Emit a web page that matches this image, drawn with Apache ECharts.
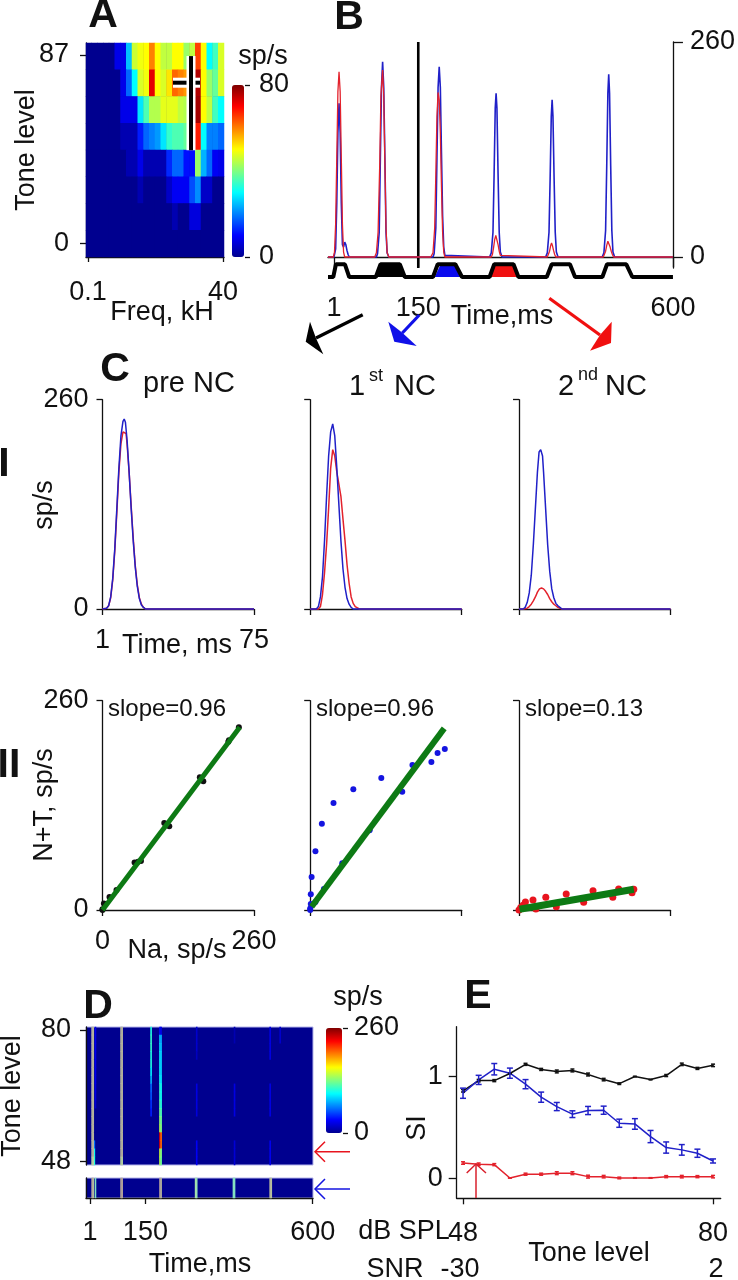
<!DOCTYPE html>
<html><head><meta charset="utf-8">
<style>html,body{margin:0;padding:0;background:#fff}#c{width:738px;height:1280px}</style>
<script src="https://cdn.jsdelivr.net/npm/echarts@6/dist/echarts.min.js"></script>
</head><body><div id="c"></div>
<script>
// ---------- DATA ----------
// A: tuning map, rows top to bottom, 24 frequency columns
const aRow0=[0,0,0,0,0,8,8,25,46,49,50,60,50,45,45,50,50,42,45,65,50,30,35,47];
const aRow1=[0,0,0,0,0,0,8,18,30,47,49,72,50,47,52,62,60,58,60,76,50,42,38,47];
const aRow2=[0,0,0,0,0,0,8,8,8,28,36,44,44,48,48,48,45,44,46,77,50,45,35,30];
const aRow3=[0,0,0,0,0,0,3,3,3,12,18,20,22,28,34,36,36,38,42,68,30,20,20,18];
const aRow4=[0,0,0,0,0,0,0,3,3,8,3,3,3,3,13,18,18,11,11,42,24,18,9,8];
const aRow5=[0,0,0,0,0,0,0,0,0,3,0,0,0,0,5,9,9,9,16,21,5,5,0,0];
const aRow6=[0,0,0,0,0,0,0,0,0,0,0,0,0,0,0,3,0,0,7,7,0,0,0,0];
const aRow7=[0,0,0,0,0,0,0,0,0,0,0,0,0,0,0,0,0,0,0,0,0,0,0,0];
const aRows=[aRow0,aRow1,aRow2,aRow3,aRow4,aRow5,aRow6,aRow7];
const aTicksY=[0,87], aTicksX=[-1,1.602], aBarTicks=[0,80];
// B
const bBlue=[[-9.5,0],[1,0],[4,10],[6,65],[8,150],[10,186],[12,150],[14,65],[16,15],[18,12],[20,18],[22,15],[24,8],[26,3],[28,0],
[76,0],[78,4],[81,30],[83,120],[85,205],[87,236],[89,205],[91,120],[93,30],[95,5],[98,0],
[176,0],[178,4],[181,35],[183,120],[185,205],[187,230],[189,205],[191,125],[193,50],[195,12],[197,2],[199,0],
[276,0],[279,5],[282,30],[284,100],[286,180],[287.5,198],[289,180],[291,100],[293,30],[295,6],[298,0],
[375,0],[378,5],[381,30],[383,95],[385,170],[386.5,190],[388,170],[390,95],[392,30],[394,6],[397,0],
[475,0],[478,5],[481,32],[483,110],[485,198],[486.5,221],[488,198],[490,110],[492,32],[494,6],[497,0],[600,0]];
const bRed=[[-9.5,0],[0,0],[2,6],[4,40],[6,120],[8,200],[10,224],[12,200],[14,120],[16,40],[18,6],[20,0],
[73,0],[76,5],[79,30],[82,115],[84,195],[87,226],[89,195],[91,115],[93,35],[95,5],[98,0],
[172,0],[176,5],[179,35],[181,100],[183,170],[185,199],[187,190],[189,150],[191,85],[193,30],[195,6],[197,0],
[279,0],[281,3],[283,11],[285,21],[287,26],[289,24],[291,15],[293,7],[295,2],[297,0],
[378,0],[380,2],[382,7],[384,14],[385.5,17],[387,14],[389,8],[391,3],[393,0],
[477,0],[479,2],[481,7],[483,14],[485,19],[487,17],[489,12],[491,7],[493,3],[495,0],[600,0]];
const bStim=[[-9.5,-24.2],[-0.2,-24.2],[4.5,-8.8],[20.4,-8.8],[28,-24.2],[75,-24.2],[83.3,-8.8],[117.4,-8.8],[126.2,-24.2],
[176,-24.2],[184.3,-8.8],[215.5,-8.8],[227.3,-24.2],[276,-24.2],[284.2,-8.8],[318.3,-8.8],[327,-24.2],
[377,-24.2],[385.8,-8.8],[418,-8.8],[427,-24.2],[475.3,-24.2],[483.5,-8.8],[517.6,-8.8],[528.2,-24.2],[600,-24.2]];
const bNoiseBlack=[[75,-24.2],[83.3,-8.8],[117.4,-8.8],[126.2,-24.2]];
const bNoiseBlue=[[179,-24.2],[188,-11],[216,-11],[225,-24.2]];
const bNoiseRed=[[278,-24.2],[285,-11],[318,-11],[328,-24.2]];
const bCursor=[[150,260],[150,-13.3]];
// C row I: pre NC, 1st NC, 2nd NC
const c1Blue=[[1,0],[3,1],[4,4],[5,15],[6,38],[7,75],[8,125],[9,175],[10,215],[11,233],[11.6,236],[12.2,232],[13,210],[14,170],[15,125],[16,85],[17,52],[18,28],[19,13],[20,5],[21,2],[22,0],[75,0]];
const c1Red=[[1,0],[3,1],[4,4],[5,14],[6,36],[7,72],[8,120],[9,170],[10,205],[11,220],[11.8,222],[12.5,218],[13,205],[14,170],[15,128],[16,88],[17,54],[18,30],[19,14],[20,6],[21,2],[22,0],[75,0]];
const c2Blue=[[1,0],[4,0],[5,3],[6,15],[7,40],[8,85],[9,140],[10,190],[11,220],[12,230],[13,215],[14,175],[15,130],[16,85],[17,50],[18,27],[19,13],[20,6],[21,2],[22,0],[75,0]];
const c2Red=[[1,0],[5,0],[6,3],[7,18],[8,45],[9,80],[10,125],[11,175],[12,198],[12.5,199],[13,190],[14,170],[15,155],[16,140],[17,112],[18,85],[19,55],[20,32],[21,15],[22,7],[23,3],[25,0],[75,0]];
const c3Blue=[[1,0],[3,0],[4,2],[5,8],[6,20],[7,42],[8,80],[9,125],[10,170],[10.8,195],[11.6,198],[12,198],[12.5,190],[13,170],[14,125],[15,80],[16,47],[17,25],[18,14],[19,7],[20,4],[21,2],[22,0],[75,0]];
const c3Red=[[1,0],[3,0],[5,1],[6,3],[7,6],[8,10],[9,15],[10,21],[11,25],[12,26],[13,25],[14,22],[15,18],[16,13],[17,9],[18,6],[19,4],[20,2],[21,1],[22,0],[75,0]];
// C row II: scatter and fits
const s1Points=[[234,227],[216,209],[217,211],[169,162],[173,160],[167,165],[110.5,106],[114.6,104],[106,108],[61,60],[66,61],[55,59],[24,25],[12,16],[2.4,8],[0,1],[0,0]];
const s2Points=[[0,0],[0,2],[1,7.5],[1,19.5],[2.4,41],[9,73],[20,107],[40,133],[74,150],[122,164],[158,147],[175.5,180],[208,184],[218.6,195],[231,200],[102,99],[55,58],[23.5,26],[9,10]];
const s3Points=[[0,0],[3,3],[7,6],[11,10],[24,12.4],[46,15.7],[81,20],[127,24],[171,26],[197,25.7],[194,21.5],[161,15.7],[111,9.5],[64,4],[29,1.2]];
const s1Fit=[[0,0],[235.6,227]], s2Fit=[[2.4,4],[230,225.6]], s3Fit=[[1,1],[197,25.7]];
// D: stripes (time in ms, values for 17 levels from 80 down to 48)
const dSoftTimes=[6,9,84,87];
const dSoftLevels=[225,225,225,225,225,225,225,225,225,225,225,225,225,225,225,230,200];
const dStripeTimes=[12,14,164,188,191,286,387,485,512];
const dStripe12=[0,0,0,0,0,0,0,0,0,0,0,0,0,0,60,100,105];
const dStripe14=[28,28,28,28,28,28,28,25,25,20,0,0,0,0,0,0,0];
const dStripe164=[105,110,110,105,105,95,80,60,55,45,40,0,0,0,0,0,0];
const dStripe188=[35,85,90,95,95,95,100,110,110,120,125,135,145,235,235,150,145];
const dStripe191=[25,75,80,85,85,85,90,100,100,105,115,125,130,200,200,130,125];
const dStripe286=[18,18,18,14,0,0,0,24,24,24,22,0,0,0,30,30,30];
const dStripe387=[10,10,0,0,0,0,0,24,24,24,24,0,0,0,20,20,20];
const dStripe485=[24,24,24,24,0,0,0,24,24,24,24,0,0,0,28,28,28];
const dStripe512=[18,18,0,0,0,0,0,0,0,0,0,0,0,0,0,0,0];
const dStripes=[dStripe12,dStripe14,dStripe164,dStripe188,dStripe191,dStripe286,dStripe387,dStripe485,dStripe512];
const dLowerTimes=[6,9,13,84,87,187,190,285,288,386,389,484,487];
const dLowerValues=[240,220,125,240,240,245,225,170,150,135,130,225,215];
// E: SI against tone level
const eLevels=[48,50,52,54,56,58,60,62,64,66,68,70,72,74,76,78,80];
const ePre=[.86,.96,.96,1.03,1.12,1.07,1.05,1.06,1.02,.97,.93,1,.97,1.01,1.12,1.08,1.11];
const eFirst=[.836,.967,1.072,1.033,.925,.797,.705,.63,.666,.669,.541,.534,.41,.302,.279,.246,.17];
const eFirstErr=[.05,.045,.056,.05,.045,.05,.04,.033,.04,.04,.04,.052,.06,.055,.052,.04,.02];
const eSecond=[.15,.138,.134,.003,.04,.04,.05,.05,.016,.016,.003,.003,.003,.016,.016,.016,.016];
const eSmallErr=[.012,.012,.01,.002,.01,.01,.014,.014,.014,.012,.008,.003,.003,.01,.012,.01,.012];

// ---------- STYLE ----------
const FONT='"Liberation Sans",Arial,sans-serif', INK='#111', BLUE='#2020c8', RED='#e3222c', GREEN='#0d7a14';
const JET=['#00008f','#0000ff','#0080ff','#00ffff','#80ff80','#ffff00','#ff8000','#ff0000','#7f0000'];
const SIZE=27;
const grid=[],xAxis=[],yAxis=[],series=[];
function axis(gi,min,max,ticks,o){o=o||{};
  return Object.assign({type:'value',gridIndex:gi,min,max,splitLine:{show:false},
    axisLine:{show:o.line!==false,onZero:!!o.onZero,lineStyle:{color:INK,width:1.3}},
    axisTick:{show:!!ticks,customValues:ticks||[],length:o.tick||6,lineStyle:{color:INK,width:1.3}},
    axisLabel:{show:!!o.labels,customValues:ticks||[],margin:o.margin||12,fontFamily:FONT,fontSize:SIZE,color:INK,formatter:o.fmt}},o.extra||{});
}
function addGrid(l,t,w,h,x,y,extra){const i=grid.length;
  grid.push(Object.assign({left:l,top:t,width:w,height:h},extra||{}));
  const xi=xAxis.push(Object.assign(axis(i,x[0],x[1],x[2],x[3]),{}))-1;
  const yi=yAxis.push(axis(i,y[0],y[1],y[2],y[3]))-1;
  return {i,xi,yi};
}
function cat(gi,n){return {type:'category',show:false,gridIndex:gi,data:Array.from({length:n},(_,k)=>k)};}
function line(g,data,color,width,o){return series.push(Object.assign({type:'line',xAxisIndex:g.xi,yAxisIndex:g.yi,data,
  showSymbol:false,symbol:'none',clip:false,silent:true,lineStyle:{color,width,cap:'butt'}},o||{}))-1;}

// ---------- PANEL A ----------
const gA=addGrid(86,43,138,214,[-1.0385,1.621,aTicksX,{labels:true,margin:22,tick:5,fmt:v=>String(Number(Math.pow(10,v).toPrecision(2)))}],
  [-6.34,92.55,aTicksY,{labels:true,margin:17}],{show:true,backgroundColor:'#00008f',borderWidth:0});
const aCatX=xAxis.push(cat(gA.i,24))-1, aCatY=yAxis.push(cat(gA.i,8))-1;
const aCells=[];aRows.forEach((r,ri)=>r.forEach((v,ci)=>aCells.push([ci,7-ri,v])));
const sA=series.push({type:'heatmap',xAxisIndex:aCatX,yAxisIndex:aCatY,data:aCells,silent:true,progressive:0})-1;
const aMarkW=[[.638,74.2],[1.159,74.2]],aMarkV=[[.985,86.5],[.985,43]];
line(gA,aMarkW,'#fff',10,{z:5});line(gA,aMarkW,'#000',4,{z:6});
line(gA,aMarkV,'#fff',9,{z:7});line(gA,aMarkV,'#000',4,{z:8});
addGrid(244,85,1,172,[0,1,null,{line:false}],[0,80,aBarTicks,{labels:true,line:false,margin:14,extra:{position:'right'}}]);
yAxis[yAxis.length-1].axisTick.length=5;

// ---------- PANEL B ----------
const gB=addGrid(328,42,346,226,[-9.5,600,[1,150,600],{labels:true,onZero:true,margin:27,tick:10}],
  [-13.3,260,[0,260],{labels:true,margin:17,tick:10,extra:{position:'right'}}]);
line(gB,bCursor,'#000',2.6);
line(gB,bBlue,BLUE,1.6,{z:3});line(gB,bRed,RED,1.3,{z:4});
line(gB,bNoiseBlack,'#000',0,{areaStyle:{color:'#000',opacity:1,origin:-24.2}});
line(gB,bNoiseBlue,'#0a0aee',0,{areaStyle:{color:'#0a0aee',opacity:1,origin:-24.2},z:3});
line(gB,bNoiseRed,'#f01010',0,{areaStyle:{color:'#f01010',opacity:1,origin:-24.2},z:3});
line(gB,bStim,'#000',4,{z:5});

// ---------- PANEL C ----------
const colX=[102.5,310.2,519], colW=151.5;
const cLabels=[true,false,false];
[[c1Blue,c1Red],[c2Blue,c2Red],[c3Blue,c3Red]].forEach((p,k)=>{
  const g=addGrid(colX[k],399.7,colW,209.3,[1,75,[1,75],{labels:cLabels[k],margin:18}],[0,260,[0,260],{labels:cLabels[k],margin:14}]);
  line(g,p[1],RED,1.5);line(g,p[0],BLUE,1.5,{z:3});
});
[[s1Points,s1Fit,'#111',5],[s2Points,s2Fit,'#1414e0',6],[s3Points,s3Fit,'#e8141e',7]].forEach((p,k)=>{
  const g=addGrid(colX[k],700.7,colW,209.3,[0,260,[0,260],{labels:cLabels[k],margin:18}],[0,260,[0,260],{labels:cLabels[k],margin:14}]);
  series.push({type:'scatter',xAxisIndex:g.xi,yAxisIndex:g.yi,data:p[0],symbolSize:k==2?7:6,clip:false,silent:true,itemStyle:{color:p[2],opacity:1},z:3});
  line(g,p[1],GREEN,p[3],{z:4});
});

// ---------- PANEL D ----------
const BINS=204, binOf=t=>Math.round((t+9.76)/(610.56/BINS));
const dFrame={show:true,backgroundColor:'#00008f',borderColor:'#b4b4ea',borderWidth:1};
const gD=addGrid(86,1027,227,138,[-9.76,600.8,null,{line:false}],[47.2,80.73,[48,80],{labels:true,margin:15}],dFrame);
const dCatX=xAxis.push(cat(gD.i,BINS))-1, dCatY=yAxis.push(cat(gD.i,17))-1;
const dJet=[],dSoft=[];
dStripes.forEach((arr,k)=>arr.forEach((v,r)=>{if(v>0)dJet.push([binOf(dStripeTimes[k]),16-r,v]);}));
dSoftTimes.forEach(t=>dSoftLevels.forEach((v,r)=>dSoft.push([binOf(t),16-r,v])));
const sDJet=series.push({type:'heatmap',xAxisIndex:dCatX,yAxisIndex:dCatY,data:dJet,silent:true,progressive:0})-1;
const sDSoft=series.push({type:'heatmap',xAxisIndex:dCatX,yAxisIndex:dCatY,data:dSoft,silent:true,progressive:0})-1;
const gD2=addGrid(86,1178,227,20,[-9.76,600.8,[1,150,600],{labels:true,margin:21,tick:6}],[0,1,null,{}],dFrame);
const d2CatX=xAxis.push(cat(gD2.i,BINS))-1, d2CatY=yAxis.push(cat(gD2.i,1))-1;
const sDLow=series.push({type:'heatmap',xAxisIndex:d2CatX,yAxisIndex:d2CatY,silent:true,progressive:0,
  data:dLowerTimes.map((t,k)=>[binOf(t),0,dLowerValues[k]])})-1;
addGrid(342,1028,1,105,[0,1,null,{line:false}],[0,260,[0,260],{labels:true,line:false,margin:11,extra:{position:'right'}}]);
yAxis[yAxis.length-1].axisTick.length=5;

// ---------- PANEL E ----------
const gE=addGrid(456.7,1026.7,264,171.6,[47.19,80.98,[48,80],{labels:true,margin:22,tick:6}],[-.197,1.49,[0,1],{labels:true,margin:14,tick:8}]);
function errSeries(vals,errs,color,cap){return {type:'custom',xAxisIndex:gE.xi,yAxisIndex:gE.yi,silent:true,z:4,clip:false,
  data:eLevels.map((x,k)=>[x,vals[k],errs[k]]),
  renderItem:(p,api)=>{const a=api.coord([api.value(0),api.value(1)+api.value(2)]),b=api.coord([api.value(0),api.value(1)-api.value(2)]);
    const st={stroke:color,lineWidth:1.5};const mk=(x1,y1,x2,y2)=>({type:'line',shape:{x1,y1,x2,y2},style:st});
    return {type:'group',children:[mk(a[0],a[1],b[0],b[1]),mk(a[0]-cap,a[1],a[0]+cap,a[1]),mk(b[0]-cap,b[1],b[0]+cap,b[1])]};}};}
const pairs=v=>eLevels.map((x,k)=>[x,v[k]]);
line(gE,pairs(ePre),'#111',1.5);series.push(errSeries(ePre,eSmallErr,'#111',2));
line(gE,pairs(eSecond),RED,1.5);series.push(errSeries(eSecond,eSmallErr,RED,2));
line(gE,pairs(eFirst),BLUE,1.5,{z:3});series.push(errSeries(eFirst,eFirstErr,BLUE,3));

// ---------- TEXT AND ANNOTATIONS ----------
const g=[];
function T(text,x,y,o){o=o||{};g.push({type:'text',x,y,rotation:o.rot?Math.PI/2:0,z:50,silent:true,style:{text,fill:INK,
  font:(o.bold?'bold ':'')+(o.size||SIZE)+'px '+FONT,textAlign:o.align||'center',textVerticalAlign:'middle'}});}
T('A',103,16,{bold:1,size:41});T('B',349,18,{bold:1,size:41});T('C',115,370,{bold:1,size:41});T('D',98,1007,{bold:1,size:41});T('E',478,997,{bold:1,size:41});
T('I',4,465,{bold:1,size:41});T('II',9,766,{bold:1,size:41});
T('Tone level',27,150,{rot:1});T('Freq, kH',162,313);T('sp/s',263,57);
T('Time,ms',502,317);
T('pre NC',189,384,{size:29});
T('1',357,387,{size:29});T('st',376,376,{size:18});T('NC',415,387,{size:29});
T('2',566,387,{size:29});T('nd',588,375,{size:18});T('NC',626,387,{size:29});
T('sp/s',45,505,{rot:1});T('Time, ms',177,646);
T('slope=0.96',167,709,{size:24});T('slope=0.96',375,709,{size:24});T('slope=0.13',584,709,{size:24});
T('N+T, sp/s',45,805,{rot:1});T('Na, sp/s',177,951);
T('Tone level',13,1096,{rot:1});T('Time,ms',200,1265);T('sp/s',358,998);
T('SI',418,1128,{rot:1});T('dB SPL',404,1232);T('Tone level',589,1254);T('SNR',395,1270);T('-30',460,1270);T('2',716,1270);
function stroke(points,color,width){g.push({type:'polyline',silent:true,z:40,shape:{points},style:{stroke:color,lineWidth:width,fill:null}});}
function fillPoly(points,color){g.push({type:'polygon',silent:true,z:40,shape:{points},style:{fill:color}});}
stroke([[362.7,314.7],[316,338]],'#000',3.2);fillPoly([[305.7,341.7],[310,321.7],[316,338.3],[323.3,354.3]],'#000');
stroke([[419.3,315],[402.3,333]],'#1010e8',3.2);fillPoly([[394.3,341.7],[388.3,321.7],[402.3,332.7],[416.7,346]],'#1010e8');
stroke([[549.3,298.3],[600,335]],'#f01010',3.2);fillPoly([[611,343],[611.7,321.7],[600,335],[590,350.7]],'#f01010');
stroke([[350,1151.7],[315,1151.7]],'#e8141e',1.5);stroke([[325,1141.7],[315,1151.7],[325,1161.7]],'#e8141e',1.5);
stroke([[350,1189],[315,1189]],'#1414e0',1.5);stroke([[325,1179],[315,1189],[325,1199]],'#1414e0',1.5);
stroke([[476,1198],[476,1164]],'#d9202c',1.5);stroke([[466.7,1173],[476,1164],[486,1173]],'#d9202c',1.5);

const bar={type:'continuous',calculable:false,padding:0,hoverLink:false,itemSymbol:'rect'};
const chart=echarts.init(document.getElementById('c'),null,{renderer:'canvas'});
chart.setOption({animation:false,backgroundColor:'#fff',tooltip:{show:false},grid,xAxis,yAxis,series,graphic:{elements:g},
  visualMap:[
    Object.assign({},bar,{min:0,max:80,left:232,top:85,itemWidth:12,itemHeight:172,seriesIndex:sA,dimension:2,inRange:{color:JET}}),
    Object.assign({},bar,{min:0,max:260,left:326,top:1028,itemWidth:16,itemHeight:105,seriesIndex:sDJet,dimension:2,inRange:{color:JET}}),
    Object.assign({},bar,{show:false,min:120,max:250,seriesIndex:[sDSoft,sDLow],dimension:2,inRange:{color:['#78e0c8','#b8e0a0','#b49a9a']}})
  ]});
</script></body></html>
